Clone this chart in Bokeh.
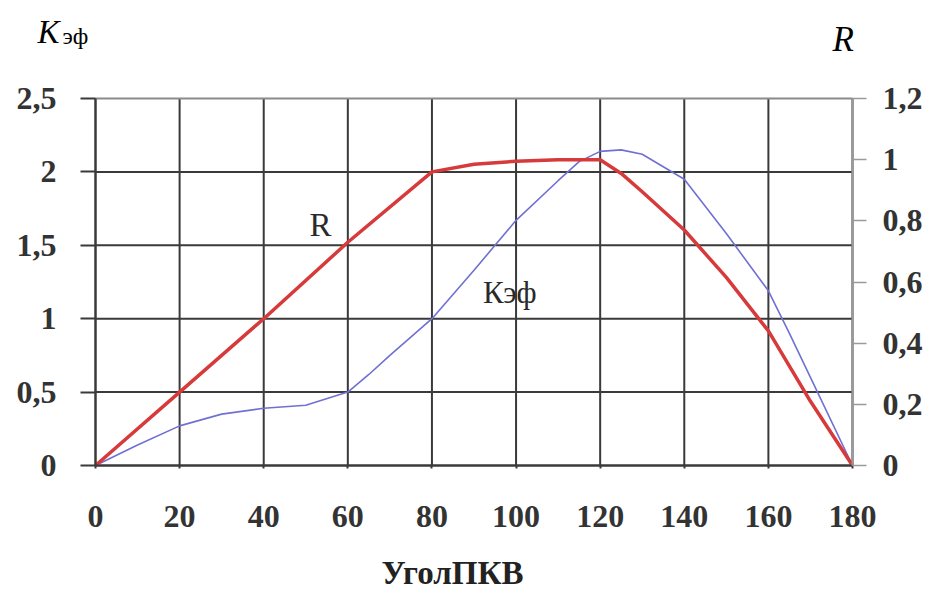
from bokeh.plotting import figure
from bokeh.models import Range1d, LinearAxis, FixedTicker, CustomJSTickFormatter, Label
from bokeh.embed import file_html
from bokeh.resources import INLINE

# --- data ---
angle_r = [0, 20, 40, 60, 80, 90, 100, 110, 120, 125, 130, 140, 150, 160, 170, 180]
r_vals = [0, 0.24, 0.48, 0.73, 0.96, 0.985, 0.995, 1.0, 1.0, 0.955, 0.895, 0.77, 0.615, 0.44, 0.21, 0]

angle_k = [0, 10, 20, 30, 40, 50, 60, 65, 70, 80, 90, 100, 110, 115, 120, 125, 130, 140, 150, 160, 165, 170, 180]
k_vals = [0, 0.14, 0.27, 0.35, 0.39, 0.41, 0.50, 0.62, 0.75, 1.0, 1.33, 1.67, 1.94, 2.07, 2.14, 2.15, 2.12, 1.95, 1.58, 1.19, 0.9, 0.6, 0]

x_ticks = [0, 20, 40, 60, 80, 100, 120, 140, 160, 180]
k_ticks = [0, 0.5, 1, 1.5, 2, 2.5]
r_ticks = [0, 0.2, 0.4, 0.6, 0.8, 1.0, 1.2]

X_MIN, X_MAX = 0, 180
K_MIN, K_MAX = 0, 2.5
R_MIN, R_MAX = 0, 1.2

SERIF = "Liberation Serif"
DARK = "#3a3a3a"
LABEL_COL = "#333333"

# --- layout: the frame fills the whole canvas; the chart box sits inside it ---
W, H = 933, 589
BOX_L, BOX_R, BOX_T, BOX_B = 95, 852, 98, 465   # chart box edges in pixels
sx = (BOX_R - BOX_L) / (X_MAX - X_MIN)
sy = (BOX_B - BOX_T) / (K_MAX - K_MIN)
x_start = X_MIN - BOX_L / sx
x_end = X_MAX + (W - BOX_R) / sx
y_start = K_MIN - (H - BOX_B) / sy
y_end = K_MAX + BOX_T / sy
rk = (R_MAX - R_MIN) / (K_MAX - K_MIN)

p = figure(width=W, height=H, x_range=Range1d(x_start, x_end), y_range=Range1d(y_start, y_end),
           output_backend="svg", toolbar_location=None,
           min_border_left=0, min_border_right=0, min_border_top=0, min_border_bottom=0,
           y_axis_location=None, x_axis_location=None)
p.extra_y_ranges = {"r": Range1d(y_start * rk, y_end * rk)}
p.grid.visible = False
p.outline_line_color = None
p.background_fill_color = "white"
p.border_fill_color = "white"

# grid lines (from the tick lists, spanning the chart box)
p.segment(x0=x_ticks, x1=x_ticks, y0=[K_MIN] * len(x_ticks), y1=[K_MAX] * len(x_ticks),
          line_color=DARK, line_width=2)
p.segment(x0=[X_MIN] * (len(k_ticks) - 1), x1=[X_MAX] * (len(k_ticks) - 1),
          y0=k_ticks[:-1], y1=k_ticks[:-1], line_color=DARK, line_width=2)
p.segment(x0=[X_MIN], x1=[X_MAX], y0=[K_MAX], y1=[K_MAX], line_color="#8a8a8a", line_width=2)

fmt = CustomJSTickFormatter(code="return tick.toString().replace('.', ',');")

def style_labels(ax):
    ax.major_label_text_font = SERIF
    ax.major_label_text_font_style = "bold"
    ax.major_label_text_font_size = "32px"
    ax.major_label_text_color = LABEL_COL
    ax.minor_tick_line_color = None
    ax.major_tick_in = 0

# left axis at x = 0
ly = LinearAxis(ticker=FixedTicker(ticks=k_ticks), formatter=fmt, fixed_location=X_MIN, bounds=(K_MIN, K_MAX))
style_labels(ly)
ly.axis_line_color = DARK
ly.axis_line_width = 2
ly.major_tick_out = 15
ly.major_tick_line_color = DARK
ly.major_tick_line_width = 2
ly.major_label_standoff = 24
p.add_layout(ly, "left")

# right axis at x = 180
ry = LinearAxis(y_range_name="r", ticker=FixedTicker(ticks=r_ticks), formatter=fmt,
                fixed_location=X_MAX, bounds=(R_MIN, R_MAX))
style_labels(ry)
ry.axis_line_color = "#9a9a9a"
ry.axis_line_width = 2
ry.major_tick_out = 14
ry.major_tick_line_color = "#9a9a9a"
ry.major_tick_line_width = 1.5
ry.major_label_standoff = 16
p.add_layout(ry, "right")

# bottom axis at K = 0
bx = LinearAxis(ticker=FixedTicker(ticks=x_ticks), fixed_location=K_MIN, bounds=(X_MIN, X_MAX))
style_labels(bx)
bx.axis_line_color = DARK
bx.axis_line_width = 2
bx.major_tick_out = 3
bx.major_tick_line_color = DARK
bx.major_tick_line_width = 2
bx.major_label_standoff = 37
p.add_layout(bx, "below")

# lines
p.line(angle_k, k_vals, line_color="#7070d4", line_width=1.6)
p.line(angle_r, r_vals, y_range_name="r", line_color="#d63a3a", line_width=3.5)

# in-plot labels
p.add_layout(Label(x=53.5, y=1.64, text="R", text_font=SERIF,
                   text_font_size="33px", text_color="#2a2a2a",
                   text_align="center", text_baseline="middle"))
p.add_layout(Label(x=98.5, y=1.18, text="Кэф", text_font=SERIF,
                   text_font_size="31px", text_color="#2a2a2a",
                   text_align="center", text_baseline="middle"))

# axis titles (positions given by the pixel centre of their capitals)
def px_to_x(px):
    return X_MIN + (px - BOX_L) / sx

def py_to_y(py):
    return K_MIN + (BOX_B - py) / sy

p.add_layout(Label(x=px_to_x(37), y=py_to_y(31), text="K", text_font=SERIF, text_font_style="italic",
                   text_font_size="33px", text_color="black", text_baseline="middle"))
p.add_layout(Label(x=px_to_x(62), y=py_to_y(35), text="эф", text_font=SERIF,
                   text_font_size="24px", text_color="black", text_baseline="middle"))
p.add_layout(Label(x=px_to_x(832), y=py_to_y(39), text="R", text_font=SERIF, text_font_style="italic",
                   text_font_size="35px", text_color="black", text_baseline="middle"))
p.add_layout(Label(x=px_to_x(452), y=py_to_y(572), text="УголПКВ", text_font=SERIF, text_font_style="bold",
                   text_font_size="33px", text_color="#222222",
                   text_align="center", text_baseline="middle"))

open("out.html", "w").write(file_html(p, INLINE))
